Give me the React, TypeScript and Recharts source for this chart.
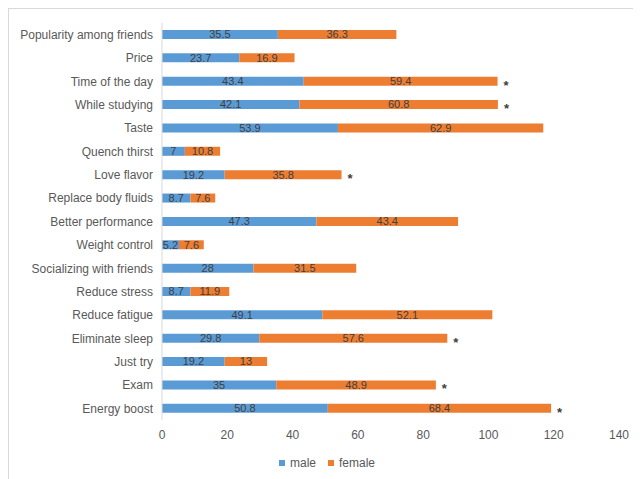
import { Bar, BarChart, Legend, LabelList, XAxis, YAxis } from 'recharts';

const reasons = [
  'Popularity among friends',
  'Price',
  'Time of the day',
  'While studying',
  'Taste',
  'Quench thirst',
  'Love flavor',
  'Replace body fluids',
  'Better performance',
  'Weight control',
  'Socializing with friends',
  'Reduce stress',
  'Reduce fatigue',
  'Eliminate sleep',
  'Just try',
  'Exam',
  'Energy boost'
];

const maleValues = [35.5, 23.7, 43.4, 42.1, 53.9, 7, 19.2, 8.7, 47.3, 5.2, 28, 8.7, 49.1, 29.8, 19.2, 35, 50.8];
const femaleValues = [36.3, 16.9, 59.4, 60.8, 62.9, 10.8, 35.8, 7.6, 43.4, 7.6, 31.5, 11.9, 52.1, 57.6, 13, 48.9, 68.4];
const significant = [false, false, true, true, false, false, true, false, false, false, false, false, false, true, false, true, true];

const xTicks = [0, 20, 40, 60, 80, 100, 120, 140];

const series = [
  { key: 'male', color: '#5B9BD5' },
  { key: 'female', color: '#ED7D31' }
];

const data = reasons.map((reason, i) => ({
  reason,
  male: maleValues[i],
  female: femaleValues[i],
  sig: significant[i] ? '*' : ''
}));

const FONT = '"Liberation Sans", Arial, sans-serif';
const labelStyle = { fill: '#404040', fontSize: 11, fontFamily: FONT };

// category tick without wrapping
const CategoryTick = (props: any) => {
  const { x, y, payload } = props;
  return (
    <text x={x} y={y} dy="0.355em" textAnchor="end" fill="#595959" fontSize={12} fontFamily={FONT}>
      {payload.value}
    </text>
  );
};

// asterisk drawn just past the end of the stacked bar
const renderStar = (props: any) => {
  if (!props.value) return null;
  const x = Number(props.x) + Number(props.width) + 6;
  const y = Number(props.y) + Number(props.height) / 2 + 8.5;
  return (
    <text x={x} y={y} fill="#404040" fontSize={13} fontWeight="bold" fontFamily={FONT}>
      *
    </text>
  );
};

const renderLegend = () => (
  <div style={{ textAlign: 'center', fontFamily: FONT, fontSize: 12, color: '#595959', paddingLeft: 38 }}>
    {series.map((s) => (
      <span key={s.key} style={{ display: 'inline-block', marginRight: 12 }}>
        <span style={{ display: 'inline-block', width: 6, height: 6, background: s.color, marginRight: 5, verticalAlign: 'middle' }} />
        <span style={{ verticalAlign: 'middle' }}>{s.key}</span>
      </span>
    ))}
  </div>
);

export default function App() {
  return (
    <div style={{ width: 640, height: 480, border: '1px solid #d9d9d9', boxSizing: 'border-box', background: '#fff' }}>
      <BarChart
        width={639}
        height={472}
        data={data}
        layout="vertical"
        barSize={9}
        margin={{ top: 14, right: 29, left: 0, bottom: 16 }}
      >
        <XAxis
          type="number"
          domain={[0, 140]}
          ticks={xTicks}
          axisLine={false}
          tickLine={false}
          tickMargin={4}
          tick={{ fill: '#595959', fontSize: 12, fontFamily: FONT }}
        />
        <YAxis
          type="category"
          dataKey="reason"
          width={153}
          interval={0}
          tickLine={false}
          tickMargin={3}
          axisLine={{ stroke: '#d9d9d9' }}
          tick={<CategoryTick />}
        />
        <Legend content={renderLegend} wrapperStyle={{ bottom: 11 }} />
        {series.map((s) => (
          <Bar key={s.key} dataKey={s.key} name={s.key} stackId="a" fill={s.color} isAnimationActive={false}>
            <LabelList dataKey={s.key} position="center" style={labelStyle} />
            {s.key === 'female' && <LabelList dataKey="sig" content={renderStar} />}
          </Bar>
        ))}
      </BarChart>
    </div>
  );
}
